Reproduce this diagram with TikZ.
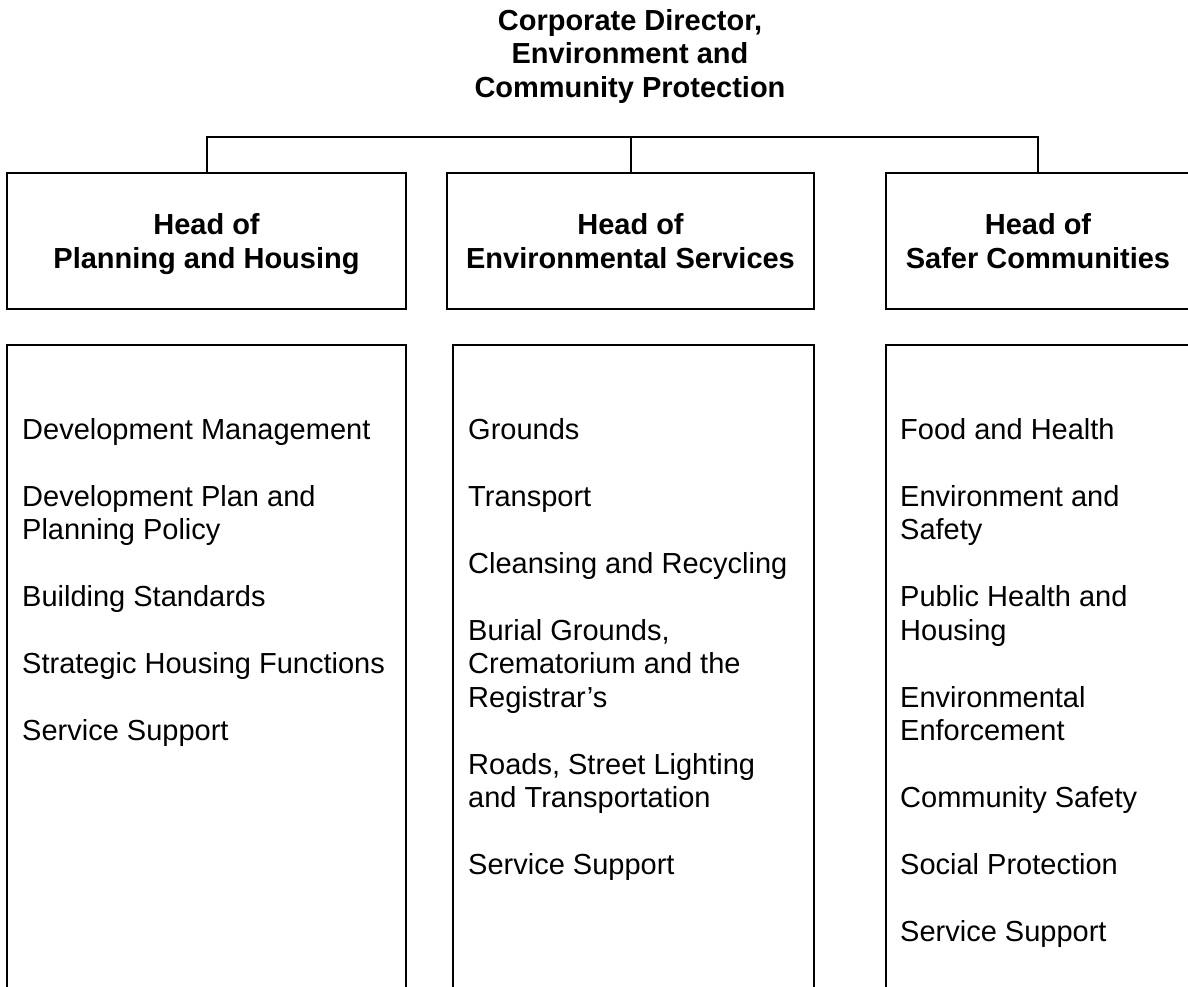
\documentclass[tikz,border=0pt]{standalone}
\usepackage{fontspec}
\setmainfont{Liberation Sans}

\begin{document}
\begin{tikzpicture}[
    x=1pt, y=-1pt,
    head/.style={draw, line width=2pt, minimum height=136pt, align=center,
                 text depth=0pt, font={\fontsize{29}{33.5}\selectfont\bfseries}},
    unit/.style={draw, line width=2pt, minimum height=660pt},
    title/.style={inner sep=0pt, align=center,
                  font={\fontsize{29}{33.5}\selectfont\bfseries}},
    duty/.style={inner sep=0pt, align=left,
                 font={\fontsize{29}{33.5}\selectfont}},
    link/.style={line width=2pt},
]

    \useasboundingbox (0,0) rectangle (1188,986);

    \node[title, anchor=north] (director) at (630,9)
        {Corporate Director,\\Environment and\\Community Protection};

    \node[head, minimum width=399pt] (planning) at (206.5,241) {Head of\\Planning and Housing};
    \node[head, minimum width=367pt] (environ) at (630.5,241) {Head of\\Environmental Services};
    \node[head, minimum width=304pt] (safer) at (1038,241) {Head of\\Safer Communities};

    \coordinate (bar) at (630,137);
    \draw[link] (planning.north) |- (bar) -| (safer.north);
    \draw[link] (environ.north) -- (environ.north |- bar);

    \node[unit, minimum width=399pt, anchor=north] (planlist) at (206.5,344) {};
    \node[unit, minimum width=361pt, anchor=north] (envlist) at (633.5,344) {};
    \node[unit, minimum width=304pt, anchor=north] (saferlist) at (1038,344) {};

    \node[duty, anchor=north west] (plantasks) at ([xshift=16pt, yshift=-74pt]planlist.north west)
        {Development Management\\[33.5pt]
         Development Plan and\\Planning Policy\\[33.5pt]
         Building Standards\\[33.5pt]
         Strategic Housing Functions\\[33.5pt]
         Service Support};
    \node[duty, anchor=north west] (envtasks) at ([xshift=16pt, yshift=-74pt]envlist.north west)
        {Grounds\\[33.5pt]
         Transport\\[33.5pt]
         Cleansing and Recycling\\[33.5pt]
         Burial Grounds,\\Crematorium and the\\Registrar’s\\[33.5pt]
         Roads, Street Lighting\\and Transportation\\[33.5pt]
         Service Support};
    \node[duty, anchor=north west] (safertasks) at ([xshift=15pt, yshift=-74pt]saferlist.north west)
        {Food and Health\\[33.5pt]
         Environment and\\Safety\\[33.5pt]
         Public Health and\\Housing\\[33.5pt]
         Environmental\\Enforcement\\[33.5pt]
         Community Safety\\[33.5pt]
         Social Protection\\[33.5pt]
         Service Support};

\end{tikzpicture}
\end{document}
